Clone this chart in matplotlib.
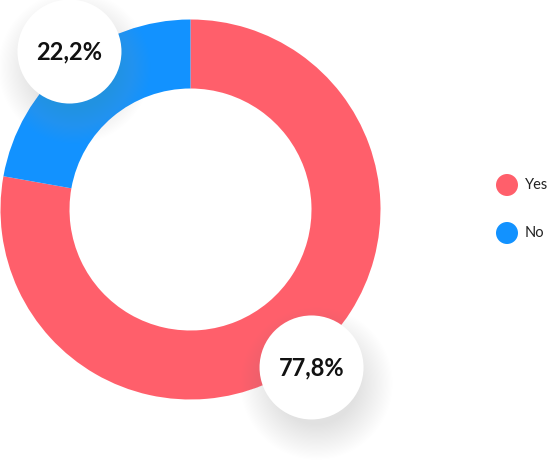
import numpy as np
import matplotlib
matplotlib.use("Agg")
import matplotlib.pyplot as plt
from matplotlib.patches import Circle

categories = ["Yes", "No"]
values = [77.8, 22.2]
labels = ["77,8%", "22,2%"]
colors = ["#FF5F6B", "#1292FF"]

W, H = 551, 472
fig = plt.figure(figsize=(W / 100, H / 100), dpi=100)
ax = fig.add_axes([0, 0, 1, 1])

cx, cy = 190.5, H - 209.5
R, r_in = 190, 121
wedges, _ = ax.pie(values, colors=colors, startangle=90, counterclock=False,
                   radius=R, center=(cx, cy),
                   wedgeprops=dict(width=R - r_in, linewidth=0))
ax.set_xlim(0, W)
ax.set_ylim(0, H)
ax.set_aspect("equal")
ax.axis("off")

# label bubbles
total = sum(values)
start = 90.0
lr = 199
br = 52
for v, lab in zip(values, labels):
    ang = start - v / total * 360 / 2 - 2.5
    start -= v / total * 360
    x = cx + lr * np.cos(np.radians(ang))
    y = cy + lr * np.sin(np.radians(ang))
    # soft shadow
    for i in range(30):
        ax.add_patch(Circle((x + 5, y - 16), br + 24 - i * 1.2,
                            color="#a0a4b4", alpha=0.009, lw=0, zorder=3))
    ax.add_patch(Circle((x, y), br, color="white", lw=0, zorder=4))
    ax.text(x, y, lab, ha="center", va="center", fontsize=17,
            family="Lato", weight="bold", color="#111111", zorder=5)

# legend
ly = [H - 185, H - 233]
for c, name, yy in zip(colors, categories, ly):
    ax.add_patch(Circle((507, yy), 11, color=c, lw=0))
    ax.text(525, yy, name, ha="left", va="center", fontsize=10.5,
            family="Lato", color="#222222")

fig.savefig("out.png", dpi=100)
